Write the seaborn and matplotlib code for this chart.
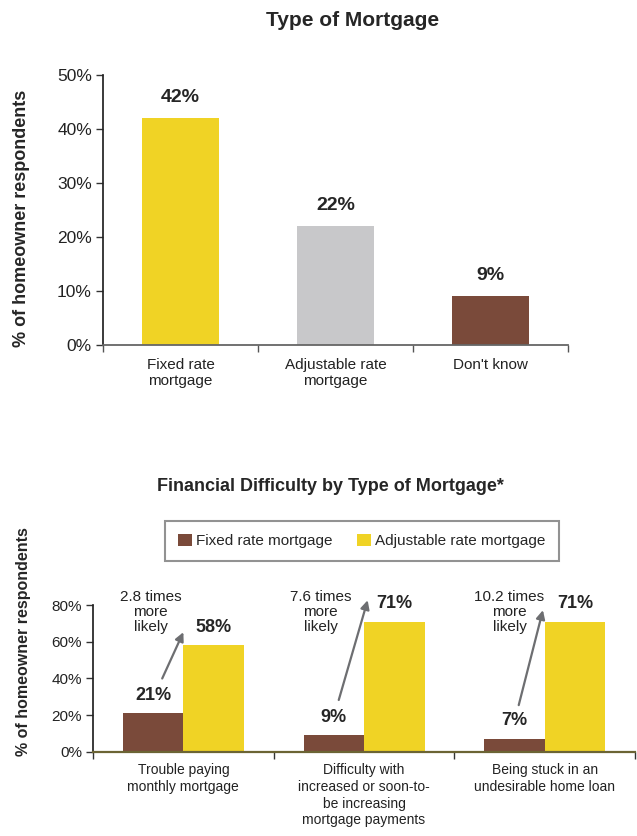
import numpy as np
import pandas as pd
import matplotlib
matplotlib.use("Agg")
import matplotlib.pyplot as plt
from matplotlib.ticker import FuncFormatter, FixedLocator
import seaborn as sns

# --- data ---
mortgage_types = ["Fixed rate\nmortgage", "Adjustable rate\nmortgage", "Don't know"]
mortgage_share = [42, 22, 9]

difficulties = ["Trouble paying\nmonthly mortgage",
                "Difficulty with\nincreased or soon-to-\nbe increasing\nmortgage payments",
                "Being stuck in an\nundesirable home loan"]
fixed_rate = [21, 9, 7]
adjustable_rate = [58, 71, 71]
likely_text = ["2.8 times\nmore\nlikely", "7.6 times\nmore\nlikely", "10.2 times\nmore\nlikely"]

YELLOW = "#F0D325"
GREY = "#C8C8CA"
BROWN = "#7A4A3A"
ARROW = "#6D6E71"

sns.set_theme(style="white")
plt.rcParams["font.family"] = ["Liberation Sans", "DejaVu Sans"]

fig = plt.figure(figsize=(6.37, 8.36), dpi=100)
pct = FuncFormatter(lambda v, p: f"{v:.0f}%")

# ---------------- top chart ----------------
ax1 = fig.add_axes([0.1617, 0.5873, 0.730, 0.323])
df1 = pd.DataFrame({"type": mortgage_types, "share": mortgage_share})
sns.barplot(data=df1, x="type", y="share", hue="type",
            palette=[YELLOW, GREY, BROWN], width=0.5, legend=False,
            saturation=1, linewidth=0, ax=ax1)
ax1.set_ylim(0, 50)
ax1.set_xlim(-0.5, 2.5)
ax1.set_yticks(range(0, 51, 10))
ax1.yaxis.set_major_formatter(pct)
for c in ax1.containers:
    ax1.bar_label(c, fmt="%.0f%%", padding=9, fontsize=14, fontweight="bold")
ax1.set_xlabel("")
ax1.set_ylabel("% of homeowner respondents", fontsize=13, fontweight="bold")
ax1.yaxis.set_label_coords(-0.156, 0.47)
ax1.xaxis.set_minor_locator(FixedLocator([-0.5, 0.5, 1.5, 2.5]))
ax1.tick_params(axis="x", which="major", length=0, pad=9, labelsize=11, colors="#222222")
ax1.tick_params(axis="x", which="minor", length=5, width=1, color="#555555", direction="out")
ax1.tick_params(axis="y", length=5, width=1, color="#333333", direction="out",
                labelsize=12.5, labelcolor="#222222", pad=3)
ax1.tick_params(bottom=True, left=True, which="both")
for t in ax1.get_xticklabels():
    t.set_linespacing(1.25)
sns.despine(ax=ax1)
ax1.spines["left"].set_color("#222222")
ax1.spines["bottom"].set_color("#666666")
ax1.spines["bottom"].set_linewidth(1.3)

fig.text(0.553, 0.976, "Type of Mortgage", ha="center", va="center",
         fontsize=15, fontweight="bold")

# ---------------- bottom chart ----------------
ax2 = fig.add_axes([0.146, 0.1005, 0.851, 0.1758])
df2 = pd.DataFrame({
    "difficulty": difficulties * 2,
    "value": fixed_rate + adjustable_rate,
    "mortgage": ["Fixed rate mortgage"] * 3 + ["Adjustable rate mortgage"] * 3,
})
sns.barplot(data=df2, x="difficulty", y="value", hue="mortgage",
            palette=[BROWN, YELLOW], width=0.67, saturation=1, linewidth=0, ax=ax2)
ax2.set_ylim(0, 80)
ax2.set_xlim(-0.5, 2.5)
ax2.set_yticks(range(0, 81, 20))
ax2.yaxis.set_major_formatter(pct)
for c in ax2.containers:
    ax2.bar_label(c, fmt="%.0f%%", padding=7, fontsize=13, fontweight="bold")
ax2.set_xlabel("")
ax2.set_ylabel("% of homeowner respondents", fontsize=11.5, fontweight="bold")
ax2.yaxis.set_label_coords(-0.114, 0.75)
ax2.xaxis.set_minor_locator(FixedLocator([-0.5, 0.5, 1.5, 2.5]))
ax2.tick_params(axis="x", which="major", length=0, pad=8, labelsize=10, colors="#222222")
ax2.tick_params(axis="x", which="minor", length=5, width=1, color="#333333", direction="out")
ax2.tick_params(axis="y", length=5, width=1, color="#333333", direction="out",
                labelsize=11, labelcolor="#222222", pad=3)
ax2.tick_params(bottom=True, left=True, which="both")
for t in ax2.get_xticklabels():
    t.set_linespacing(1.25)
sns.despine(ax=ax2)
ax2.spines["left"].set_color("#222222")
ax2.spines["bottom"].set_color("#6B6434")
ax2.spines["bottom"].set_linewidth(1.6)

# "times more likely" callouts (layout offsets relative to each category)
text_dx = [-0.18, -0.24, -0.195]
tail = [(-0.117, 40), (-0.14, 28.3), (-0.144, 25.5)]
head = [(0.0, 65.2), (0.02, 82.6), (-0.01, 77.2)]
for i, txt in enumerate(likely_text):
    ax2.text(i + text_dx[i], 76, txt, ha="center", va="center", fontsize=11,
             linespacing=1.1, color="#222222", clip_on=False)
    ax2.annotate("", xy=(i + head[i][0], head[i][1]),
                 xytext=(i + tail[i][0], tail[i][1]),
                 arrowprops=dict(arrowstyle="-|>", color=ARROW, lw=1.6,
                                 mutation_scale=13, shrinkA=0, shrinkB=0),
                 annotation_clip=False)

leg = ax2.legend(loc="center", bbox_to_anchor=(0.568, 0.353),
                 bbox_transform=fig.transFigure, ncol=2, frameon=True,
                 fancybox=False, fontsize=11, handlelength=0.9,
                 handleheight=0.9, handletextpad=0.3, columnspacing=1.6,
                 borderpad=0.85, title=None)
leg.get_frame().set_edgecolor("#777777")
leg.get_frame().set_linewidth(1.5)

fig.text(0.518, 0.4175, "Financial Difficulty by Type of Mortgage*", ha="center",
         va="center", fontsize=13, fontweight="bold")

fig.savefig("out.png", dpi=100)
